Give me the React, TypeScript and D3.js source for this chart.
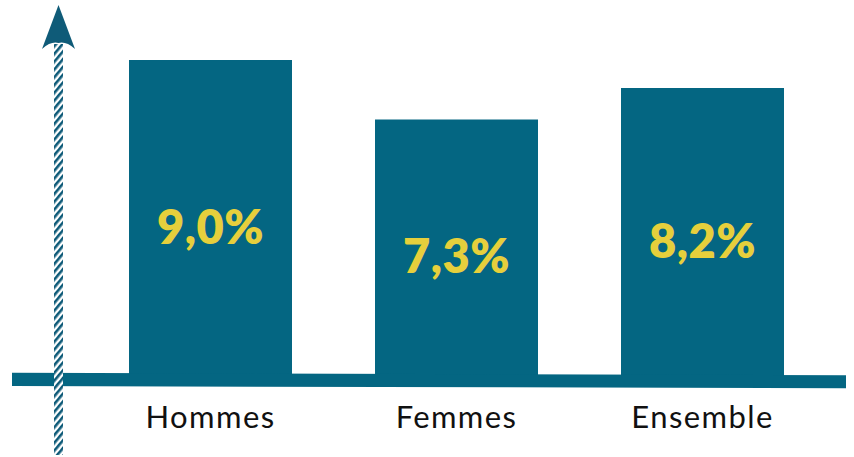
import React from "react";
import * as d3 from "d3";

const categories = ["Hommes", "Femmes", "Ensemble"];
const values = [9.0, 7.3, 8.2];
const valueLabels = ["9,0%", "7,3%", "8,2%"];

const W = 854;
const H = 457;
const BLUE = "#046682";
const YELLOW = "#e6cf3c";

export default function App() {
  const baseY = 375;
  const y = d3.scaleLinear().domain([0, 9]).range([baseY, 60]);
  const bw = 163;
  const xs = d3.scalePoint<string>().domain(categories).range([210.5, 702.5]);

  return (
    <svg width={W} height={H} style={{ position: "absolute", left: 0, top: 0 }}>
      <defs>
        <pattern id="hatch" width="5" height="5" patternUnits="userSpaceOnUse" patternTransform="rotate(40)">
          <rect width="5" height="5" fill="#ffffff" />
          <rect x="0" y="0" width="2.6" height="5" fill="#0d5a78" />
        </pattern>
      </defs>
      <rect width={W} height={H} fill="#ffffff" />
      {categories.map((c, i) => (
        <rect key={c} x={(xs(c) as number) - bw / 2} y={y(values[i])} width={bw} height={baseY + 6 - y(values[i])} fill={BLUE} />
      ))}
      <polygon points="12,372.7 846,375.2 846,388.3 12,386" fill={BLUE} />
      <rect x={54} y={44} width={9} height={411} fill="url(#hatch)" />
      <path d="M58.5,5 L75,49 Q66,41 58.5,43 Q51,41 42,49 Z" fill="#0f5b78" />
      {categories.map((c, i) => (
        <text
          key={"v" + c}
          x={xs(c) as number}
          y={(y(values[i]) + baseY) / 2 + 8}
          textAnchor="middle"
          dominantBaseline="central"
          fontFamily="Lato, 'Open Sans', sans-serif"
          fontWeight={800}
          fontSize={47}
          letterSpacing={0.5}
          fill={YELLOW}
        >
          {valueLabels[i]}
        </text>
      ))}
      {categories.map((c) => (
        <text
          key={"c" + c}
          x={xs(c) as number}
          y={428}
          textAnchor="middle"
          fontFamily="Lato, 'Open Sans', sans-serif"
          fontSize={31}
          letterSpacing={1.4}
          fill="#111111"
        >
          {c}
        </text>
      ))}
    </svg>
  );
}
